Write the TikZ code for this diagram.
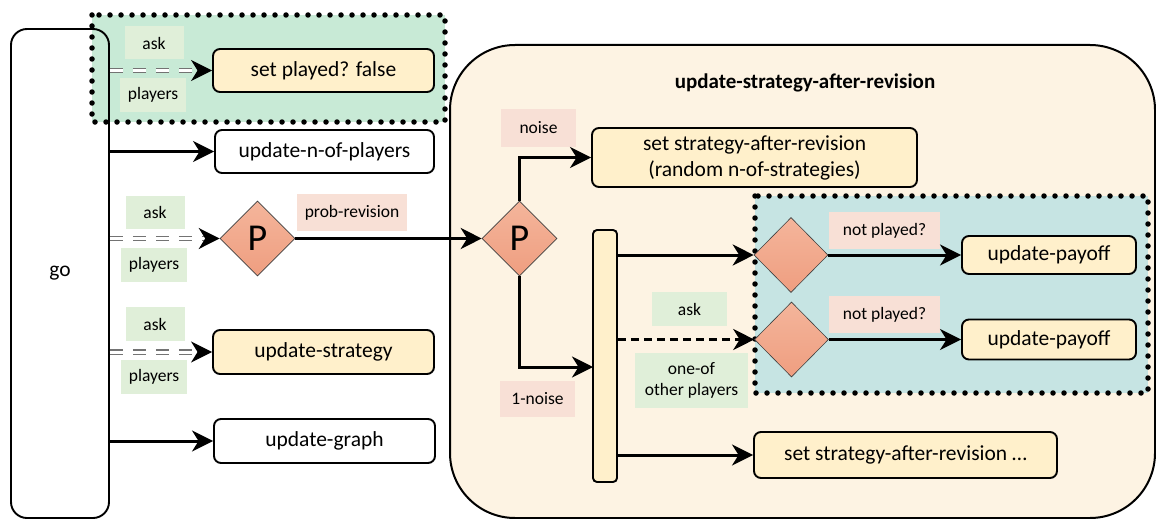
\documentclass[tikz,border=0pt]{standalone}
\usepackage{fontspec}
\setmainfont{Carlito}
\usetikzlibrary{arrows.meta,shapes.geometric,calc}
\definecolor{boxyellow}{HTML}{FFF0CB}
\definecolor{contfill}{HTML}{FDF3E3}
\definecolor{grnzone}{HTML}{C8EAD6}
\definecolor{bluezone}{HTML}{C6E4E3}
\definecolor{labgreen}{HTML}{E0EFD9}
\definecolor{labpink}{HTML}{F8E0D6}
\definecolor{diatop}{HTML}{F4B59B}
\definecolor{diabot}{HTML}{EF9E80}
\begin{document}
\begin{tikzpicture}[x=1pt,y=-1pt,
  box/.style={draw, rounded corners=7pt, line width=1.9pt, inner sep=0pt,
              font=\fontsize{21.5}{26}\selectfont},
  ybox/.style={box, fill=boxyellow},
  wbox/.style={box, fill=white},
  lab/.style={inner sep=0pt, font=\fontsize{17.5}{21}\selectfont, align=center},
  glab/.style={lab, fill=labgreen},
  plab/.style={lab, fill=labpink},
  dia/.style={diamond, draw=black!75, line width=0.6pt, top color=diatop, bottom color=diabot,
              minimum width=75pt, minimum height=75pt, inner sep=0pt,
              font=\fontsize{38}{38}\selectfont},
  tip/.style={-{Stealth[length=21pt,width=21pt,inset=6.5pt]}},
  arr/.style={line width=3pt, tip},
  darr/.style={line width=3pt, dash pattern=on 8pt off 5pt, tip},
  dblarr/.style={draw=black!55, line width=1.2pt, double=white, double distance=3pt,
                 dash pattern=on 13pt off 10pt, -{Stealth[black,length=21pt,width=21pt,inset=6.5pt]}},
  dotbord/.style={line width=5.5pt, line cap=round, dash pattern=on 0pt off 11pt},
]
\useasboundingbox (0,0) rectangle (1156,519);

% green zone
\fill[grnzone] (92,15) rectangle (445,122);
% container
\draw[fill=contfill, line width=2pt, rounded corners=65pt] (450,45) rectangle (1155,518);
\node[font=\bfseries\fontsize{21}{24}\selectfont] (title) at (805,83) {update-strategy-after-revision};
% blue zone
\fill[bluezone] (755,196) rectangle (1148,393);

% go
\node[draw, line width=1.9pt, rounded corners=16pt, minimum width=98pt, minimum height=489pt,
      font=\fontsize{21.5}{26}\selectfont, inner sep=0pt] (go) at (60,273.5) {go};
\draw[dotbord] (92,15) rectangle (445,122);
\draw[dotbord] (755,196) rectangle (1148,393);

% left column boxes
\node[ybox, minimum width=221pt, minimum height=43pt] (sp) at (323.5,70.5) {set played? false};
\node[wbox, minimum width=219pt, minimum height=43pt] (unp) at (324.5,151.5) {update-n-of-players};
\node[dia] (p1) at (257.5,238.5) {P};
\node[ybox, minimum width=221pt, minimum height=44pt] (ust) at (323.5,352) {update-strategy};
\node[wbox, minimum width=221pt, minimum height=44pt] (ug) at (324.5,441) {update-graph};

% labels left
\node[glab, minimum width=59pt, minimum height=33pt] (a1) at (154,43) {ask};
\node[glab, minimum width=66pt, minimum height=34pt] (pl1) at (153,95) {players};
\node[glab, minimum width=59pt, minimum height=33pt] (a3) at (155,212) {ask};
\node[glab, minimum width=66pt, minimum height=34pt] (pl3) at (154,265) {players};
\node[glab, minimum width=59pt, minimum height=34pt] (a4) at (155,324) {ask};
\node[glab, minimum width=66pt, minimum height=34pt] (pl4) at (154,377) {players};
\node[plab, minimum width=110pt, minimum height=37pt] (pr) at (352,212.5) {prob-revision};

% connectors left
\draw[dblarr] (go.east |- sp.west) -- (sp.west);
\draw[arr] (go.east |- unp.west) -- (unp.west);
\draw[dblarr] (go.east |- p1.west) -- (p1.west);
\draw[dblarr] (go.east |- ust.west) -- (ust.west);
\draw[arr] (go.east |- ug.west) -- (ug.west);

% right part
\node[dia] (p2) at (519.5,238.5) {P};
\draw[arr] (p1.east) -- (p2.west);
\node[plab, minimum width=75pt, minimum height=38pt] (noise) at (538.5,128) {noise};
\node[plab, minimum width=75pt, minimum height=36pt] (nnoise) at (537.5,399) {1-noise};
\node[ybox, align=center, minimum width=325pt, minimum height=59pt] (rs) at (754.5,157.5)
  {set strategy-after-revision\\(random n-of-strategies)};
\node[draw, fill=boxyellow, line width=1.9pt, rounded corners=4pt, minimum width=24pt,
      minimum height=252pt, inner sep=0pt] (bar) at (605,356) {};
\coordinate (barin) at (593,367);
\draw[arr] (p2.north) |- (rs.west);
\draw[arr] (p2.south) |- (barin);

\node[dia, minimum width=74pt] (d1) at (791,255) {};
\node[dia, minimum width=74pt] (d2) at (791.5,339.5) {};
\node[ybox, minimum width=174pt, minimum height=38pt] (up1) at (1049,255) {update-payoff};
\node[ybox, minimum width=174pt, minimum height=40pt] (up2) at (1049,339.5) {update-payoff};
\node[plab, minimum width=111pt, minimum height=37pt] (np1) at (884.5,230.5) {not played?};
\node[plab, minimum width=111pt, minimum height=37pt] (np2) at (884.5,314.5) {not played?};
\node[glab, minimum width=75pt, minimum height=34pt] (a5) at (689.5,309) {ask};
\node[glab, minimum width=113pt, minimum height=55pt] (oo) at (691.5,380.5) {one-of\\other players};
\node[ybox, minimum width=303pt, minimum height=46pt] (s3) at (905.5,455) {set strategy-after-revision \dots};

\draw[arr] (bar.east |- d1.west) -- (d1.west);
\draw[darr] (bar.east |- d2.west) -- (d2.west);
\draw[arr] (bar.east |- s3.west) -- (s3.west);
\draw[arr] (d1.east) -- (d1.east -| up1.west);
\draw[arr] (d2.east) -- (d2.east -| up2.west);
\end{tikzpicture}
\end{document}
